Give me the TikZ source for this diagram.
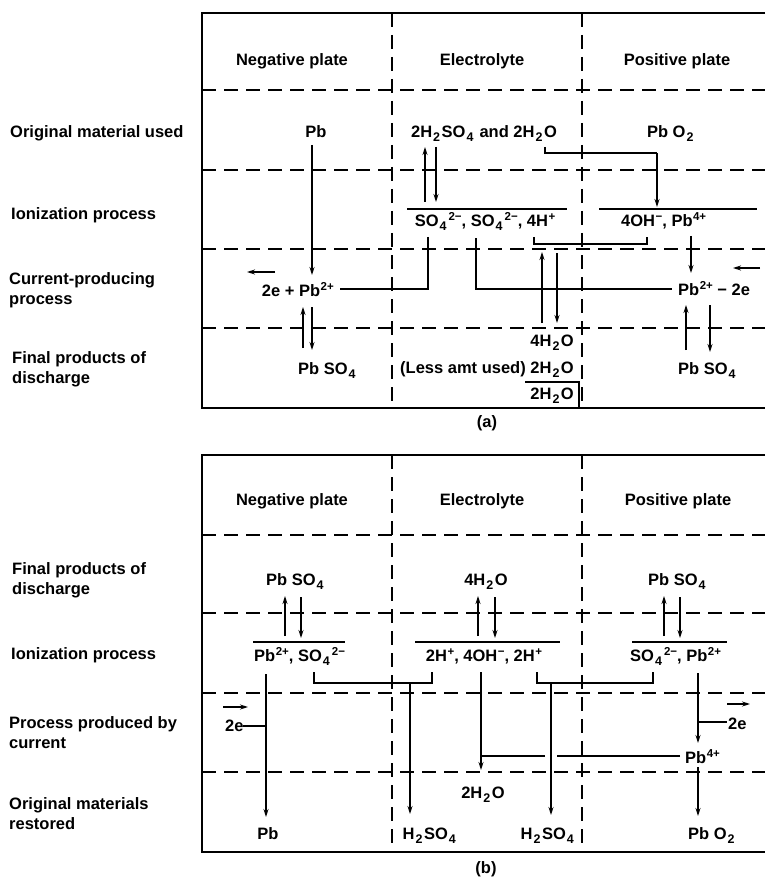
\documentclass[tikz,border=0pt]{standalone}
\usepackage{fontspec}
\setmainfont{Liberation Sans}
\usetikzlibrary{arrows.meta}
\newcommand\chsub[1]{\kern1pt\raisebox{-4pt}{\fontsize{12.5}{12}\selectfont #1}\kern1.5pt\relax}
\newcommand\chsup[1]{\kern0.5pt\raisebox{5.5pt}{\fontsize{11.5}{12}\selectfont #1}}

\begin{document}
\begin{tikzpicture}[x=1pt, y=-1pt,
    txt/.style={font=\fontsize{16.5}{20}\selectfont\bfseries, inner sep=0pt, anchor=base},
    txtl/.style={txt, anchor=base west},
    txtr/.style={txt, anchor=base east},
    frame/.style={line width=1.6pt},
    divline/.style={line width=1.1pt, dash pattern=on 14pt off 8pt},
    conn/.style={line width=1.1pt},
    arr/.style={conn, -{Stealth[length=8pt, width=5pt]}},
  ]
  \useasboundingbox (0,0) rectangle (765,877);

  % (a) discharge
  \draw[frame] (765,13) -- (202,13) -- (202,408) -- (765,408);
  \draw[divline] (202,90) -- (765,90);
  \draw[divline] (202,170) -- (765,170);
  \draw[divline] (202,249) -- (765,249);
  \draw[divline] (202,328) -- (765,328);
  \draw[divline] (392,13) -- (392,408);
  \draw[divline] (582,13) -- (582,408);

  \node[txt] (aHneg) at (292,66) {Negative plate};
  \node[txt] (aHele) at (482,66) {Electrolyte};
  \node[txt] (aHpos) at (677,66) {Positive plate};
  \node[txtl] (aLorig) at (10,138) {Original material used};
  \node[txtl] (aLion) at (11,220) {Ionization process};
  \node[txtl] (aLcurA) at (9,284) {Current-producing};
  \node[txtl] (aLcurB) at (9,304) {process};
  \node[txtl] (aLfinA) at (12,363) {Final products of};
  \node[txtl] (aLfinB) at (12,383) {discharge};

  \node[txt] (aPb) at (316,138) {Pb};
  \node[txt] (aAcid) at (484,138) {2H\chsub{2}SO\chsub{4} and 2H\chsub{2}O};
  \node[txt] (aPbOtwo) at (671,138) {Pb O\chsub{2}};
  \node[txt] (aIonEle) at (485,226) {SO\chsub{4}\chsup{2−}, SO\chsub{4}\chsup{2−}, 4H\chsup{+}};
  \node[txtl] (aIonPos) at (621,226) {4OH\chsup{−}, Pb\chsup{4+}};
  \node[txtr] (aCurNeg) at (334,296) {2e + Pb\chsup{2+}};
  \node[txtl] (aCurPos) at (678,295) {Pb\chsup{2+} − 2e};
  \node[txtr] (aWatA) at (574,346) {4H\chsub{2}O};
  \node[txtr] (aWatB) at (574,373) {(Less amt used) 2H\chsub{2}O};
  \node[txtr] (aWatC) at (574,399) {2H\chsub{2}O};
  \node[txtl] (aSulNeg) at (298,374) {Pb SO\chsub{4}};
  \node[txtl] (aSulPos) at (678,374) {Pb SO\chsub{4}};
  \node[txt] (aCap) at (487,427) {(a)};

  \draw[arr] (312,145) -- (312,275);
  \draw[arr] (275,272) -- (247,272);
  \draw[arr] (303,348) -- (303,307);
  \draw[arr] (312,307) -- (312,350);
  \draw[arr] (425,202) -- (425,147);
  \draw[arr] (436,147) -- (436,202);
  \draw[conn] (407,209) -- (567,209);
  \draw[conn] (599,209) -- (757,209);
  \draw[conn] (545,147) -- (545,153) -- (657,153);
  \draw[arr] (657,153) -- (657,207);
  \draw[conn] (428,237) -- (428,289) -- (340,289);
  \draw[conn] (476,238) -- (476,289) -- (672,289);
  \draw[conn] (534,237) -- (534,244) -- (647,244) -- (647,237);
  \draw[arr] (542,323) -- (542,252);
  \draw[arr] (557,253) -- (557,323);
  \draw[arr] (691,236) -- (691,273);
  \draw[arr] (760,268) -- (733,268);
  \draw[arr] (686,350) -- (686,305);
  \draw[arr] (710,305) -- (710,352);
  \draw[conn] (525,382) -- (579,382) -- (579,407);

  % (b) charge
  \draw[frame] (765,455) -- (202,455) -- (202,852) -- (765,852);
  \draw[divline] (202,535) -- (765,535);
  \draw[divline] (202,613) -- (765,613);
  \draw[divline] (202,693) -- (765,693);
  \draw[divline] (202,772) -- (765,772);
  \draw[divline] (392,455) -- (392,852);
  \draw[divline] (582,455) -- (582,852);

  \node[txt] (bHneg) at (292,505) {Negative plate};
  \node[txt] (bHele) at (482,505) {Electrolyte};
  \node[txt] (bHpos) at (678,505) {Positive plate};
  \node[txtl] (bLfinA) at (12,574) {Final products of};
  \node[txtl] (bLfinB) at (12,594) {discharge};
  \node[txtl] (bLion) at (11,659) {Ionization process};
  \node[txtl] (bLproA) at (9,728) {Process produced by};
  \node[txtl] (bLproB) at (9,748) {current};
  \node[txtl] (bLresA) at (9,809) {Original materials};
  \node[txtl] (bLresB) at (9,829) {restored};

  \node[txtl] (bSulNeg) at (266,585) {Pb SO\chsub{4}};
  \node[txt] (bWat) at (486,585) {4H\chsub{2}O};
  \node[txtl] (bSulPos) at (648,585) {Pb SO\chsub{4}};
  \node[txtl] (bIonNeg) at (254,661) {Pb\chsup{2+}, SO\chsub{4}\chsup{2−}};
  \node[txt] (bIonEle) at (484,661) {2H\chsup{+}, 4OH\chsup{−}, 2H\chsup{+}};
  \node[txtl] (bIonPos) at (630,661) {SO\chsub{4}\chsup{2−}, Pb\chsup{2+}};
  \node[txtl] (bElNeg) at (225,731) {2e};
  \node[txtl] (bElPos) at (728,729) {2e};
  \node[txtl] (bPbFour) at (685,763) {Pb\chsup{4+}};
  \node[txt] (bWatTwo) at (483,798) {2H\chsub{2}O};
  \node[txt] (bPb) at (268,839) {Pb};
  \node[txt] (bAcidA) at (430,839) {H\chsub{2}SO\chsub{4}};
  \node[txt] (bAcidB) at (548,839) {H\chsub{2}SO\chsub{4}};
  \node[txtl] (bPbOtwo) at (688,839) {Pb O\chsub{2}};
  \node[txt] (bCap) at (486,873) {(b)};

  \draw[arr] (285,636) -- (285,596);
  \draw[arr] (301,597) -- (301,638);
  \draw[arr] (478,636) -- (478,596);
  \draw[arr] (495,597) -- (495,638);
  \draw[arr] (664,636) -- (664,596);
  \draw[arr] (680,597) -- (680,638);
  \draw[conn] (253,642) -- (345,642);
  \draw[conn] (415,642) -- (560,642);
  \draw[conn] (632,642) -- (727,642);
  \draw[arr] (266,674) -- (266,817);
  \draw[conn] (243,726) -- (266,726);
  \draw[arr] (223,707) -- (248,707);
  \draw[conn] (314,672) -- (314,683) -- (432,683) -- (432,672);
  \draw[arr] (410,683) -- (410,814);
  \draw[arr] (481,672) -- (481,770);
  \draw[conn] (680,756) -- (557,756);
  \draw[conn] (545,756) -- (481,756);
  \draw[conn] (537,672) -- (537,683) -- (653,683) -- (653,672);
  \draw[arr] (551,683) -- (551,815);
  \draw[arr] (698,673) -- (698,743);
  \draw[conn] (698,722) -- (727,722);
  \draw[arr] (727,704) -- (750,704);
  \draw[arr] (698,767) -- (698,816);
\end{tikzpicture}
\end{document}
